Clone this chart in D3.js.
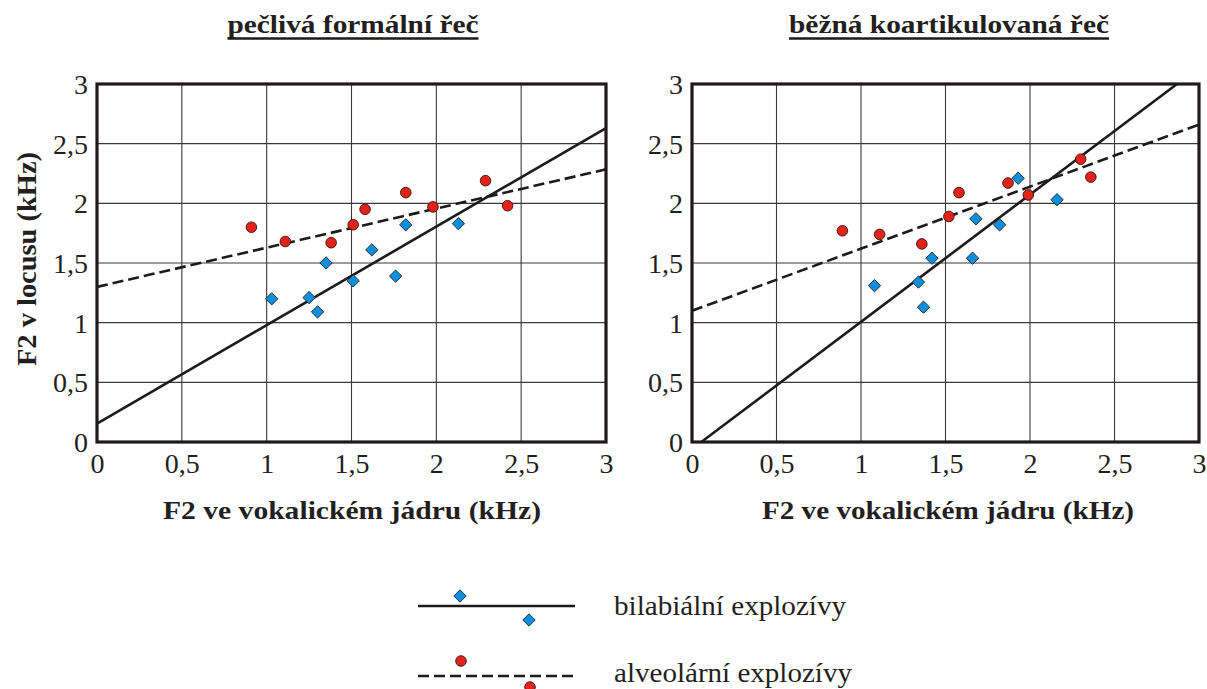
<!DOCTYPE html>
<html>
<head>
<meta charset="utf-8">
<script src="https://cdn.jsdelivr.net/npm/d3@7/dist/d3.min.js"></script>
<style>
  html, body { margin: 0; padding: 0; background: #fff; }
  svg { display: block; }
  text { font-family: "Liberation Serif", "Times New Roman", serif; fill: #231f20; }
</style>
</head>
<body>
<svg id="chart" width="1207" height="689"></svg>
<script>
// ---------- DATA ----------
const panelTitles = ["pečlivá formální řeč", "běžná koartikulovaná řeč"];
const xAxisTitle = "F2 ve vokalickém jádru (kHz)";
const yAxisTitle = "F2 v locusu (kHz)";
const tickValues = [0, 0.5, 1, 1.5, 2, 2.5, 3];
const tickLabels = ["0", "0,5", "1", "1,5", "2", "2,5", "3"];
const seriesNames = ["bilabiální explozívy", "alveolární explozívy"];

// panel 1: careful formal speech
const formalBilabialX = [1.03, 1.25, 1.30, 1.35, 1.51, 1.62, 1.76, 1.82, 2.13];
const formalBilabialY = [1.20, 1.21, 1.09, 1.50, 1.35, 1.61, 1.39, 1.82, 1.83];
const formalAlveolarX = [0.91, 1.11, 1.38, 1.51, 1.58, 1.82, 1.98, 2.29, 2.42];
const formalAlveolarY = [1.80, 1.68, 1.67, 1.82, 1.95, 2.09, 1.97, 2.19, 1.98];
const formalBilabialLine = [[0, 0.155], [3, 2.63]];
const formalAlveolarLine = [[0, 1.30], [3, 2.285]];

// panel 2: common coarticulated speech
const casualBilabialX = [1.08, 1.34, 1.37, 1.42, 1.66, 1.68, 1.82, 1.93, 2.16];
const casualBilabialY = [1.31, 1.34, 1.13, 1.54, 1.54, 1.87, 1.82, 2.21, 2.03];
const casualAlveolarX = [0.89, 1.11, 1.36, 1.52, 1.58, 1.87, 1.99, 2.30, 2.36];
const casualAlveolarY = [1.77, 1.74, 1.66, 1.89, 2.09, 2.17, 2.07, 2.37, 2.22];
const casualBilabialLine = [[0.055, 0], [2.87, 3]];
const casualAlveolarLine = [[0, 1.10], [3, 2.66]];

// ---------- STYLE ----------
const BLUE = "#0c8fd8", RED = "#e2231a", INK = "#1e1a1a";
const svg = d3.select("#chart");

const panels = [
  { title: panelTitles[0], x0: 97, x1: 606, titleX: 353, titleW: 251, axW: 378, axX: 352,
    bx: formalBilabialX, by: formalBilabialY, ax: formalAlveolarX, ay: formalAlveolarY,
    bLine: formalBilabialLine, aLine: formalAlveolarLine, yTitle: true },
  { title: panelTitles[1], x0: 692, x1: 1199, titleX: 949, titleW: 320, axW: 372, axX: 948,
    bx: casualBilabialX, by: casualBilabialY, ax: casualAlveolarX, ay: casualAlveolarY,
    bLine: casualBilabialLine, aLine: casualAlveolarLine, yTitle: false }
];
const yTop = 84, yBot = 442;

const diamond = d3.symbol(d3.symbolSquare, 76);

panels.forEach((p, i) => {
  const x = d3.scaleLinear().domain([0, 3]).range([p.x0, p.x1]);
  const y = d3.scaleLinear().domain([0, 3]).range([yBot, yTop]);
  const g = svg.append("g");

  // grid
  g.append("g").selectAll("line").data(tickValues.slice(1, -1)).join("line")
    .attr("x1", d => x(d)).attr("x2", d => x(d)).attr("y1", yTop).attr("y2", yBot)
    .attr("stroke", "#3a3a3a").attr("stroke-width", 1.1);
  g.append("g").selectAll("line").data(tickValues.slice(1, -1)).join("line")
    .attr("y1", d => y(d)).attr("y2", d => y(d)).attr("x1", p.x0).attr("x2", p.x1)
    .attr("stroke", "#3a3a3a").attr("stroke-width", 1.1);

  // axes (labels only)
  const fmt = d => tickLabels[tickValues.indexOf(d)];
  const ax = g.append("g").attr("transform", `translate(0,${yBot})`)
    .call(d3.axisBottom(x).tickValues(tickValues).tickFormat(fmt).tickSize(0).tickPadding(0));
  ax.select(".domain").remove();
  ax.selectAll("text").attr("font-size", 28).attr("dy", null).attr("y", 31)
    .style("font-family", '"Liberation Serif", serif').attr("fill", INK);
  const ay = g.append("g").attr("transform", `translate(${p.x0},0)`)
    .call(d3.axisLeft(y).tickValues(tickValues).tickFormat(fmt).tickSize(0).tickPadding(9));
  ay.select(".domain").remove();
  ay.selectAll("text").attr("font-size", 28).attr("dy", "0.34em")
    .style("font-family", '"Liberation Serif", serif').attr("fill", INK);

  // regression lines
  const line = d3.line().x(d => x(d[0])).y(d => y(d[1]));
  g.append("path").attr("d", line(p.bLine)).attr("fill", "none")
    .attr("stroke", INK).attr("stroke-width", 2.6);
  g.append("path").attr("d", line(p.aLine)).attr("fill", "none")
    .attr("stroke", INK).attr("stroke-width", 2.6).attr("stroke-dasharray", "11,5");

  // points
  g.append("g").selectAll("path").data(d3.zip(p.bx, p.by)).join("path")
    .attr("d", diamond)
    .attr("transform", d => `translate(${x(d[0])},${y(d[1])}) rotate(45)`)
    .attr("fill", BLUE).attr("stroke", "#1b2a3a").attr("stroke-width", 0.9);
  g.append("g").selectAll("circle").data(d3.zip(p.ax, p.ay)).join("circle")
    .attr("cx", d => x(d[0])).attr("cy", d => y(d[1])).attr("r", 5.3)
    .attr("fill", RED).attr("stroke", "#3a1010").attr("stroke-width", 0.9);

  // frame
  g.append("rect").attr("x", p.x0).attr("y", yTop).attr("width", p.x1 - p.x0).attr("height", yBot - yTop)
    .attr("fill", "none").attr("stroke", INK).attr("stroke-width", 3.2);

  // title
  g.append("text").attr("x", p.titleX).attr("y", 33).attr("text-anchor", "middle")
    .attr("font-size", 26).attr("font-weight", "bold")
    .attr("textLength", p.titleW).attr("lengthAdjust", "spacingAndGlyphs").text(p.title);
  g.append("line").attr("x1", p.titleX - p.titleW / 2).attr("x2", p.titleX + p.titleW / 2)
    .attr("y1", 38.5).attr("y2", 38.5).attr("stroke", INK).attr("stroke-width", 2.4);

  // x axis title
  g.append("text").attr("x", p.axX).attr("y", 519).attr("text-anchor", "middle")
    .attr("font-size", 26).attr("font-weight", "bold")
    .attr("textLength", p.axW).attr("lengthAdjust", "spacingAndGlyphs").text(xAxisTitle);

  if (p.yTitle) {
    g.append("text").attr("transform", "translate(36,259) rotate(-90)")
      .attr("text-anchor", "middle").attr("font-size", 28).attr("font-weight", "bold")
      .attr("textLength", 214).attr("lengthAdjust", "spacingAndGlyphs").text(yAxisTitle);
  }
});

// ---------- LEGEND ----------
const lg = svg.append("g");
lg.append("line").attr("x1", 418).attr("x2", 575).attr("y1", 606).attr("y2", 606)
  .attr("stroke", INK).attr("stroke-width", 2.6);
lg.selectAll("path").data([[460, 596], [529, 620]]).join("path")
  .attr("d", diamond).attr("transform", d => `translate(${d[0]},${d[1]}) rotate(45)`)
  .attr("fill", BLUE).attr("stroke", "#1b2a3a").attr("stroke-width", 0.9);
lg.append("line").attr("x1", 418).attr("x2", 575).attr("y1", 676).attr("y2", 676)
  .attr("stroke", INK).attr("stroke-width", 2.6).attr("stroke-dasharray", "11,5");
lg.selectAll("circle").data([[461, 661], [530, 687]]).join("circle")
  .attr("cx", d => d[0]).attr("cy", d => d[1]).attr("r", 5.3)
  .attr("fill", RED).attr("stroke", "#3a1010").attr("stroke-width", 0.9);
lg.append("text").attr("x", 614).attr("y", 615).attr("font-size", 28)
  .attr("textLength", 232).attr("lengthAdjust", "spacingAndGlyphs").text(seriesNames[0]);
lg.append("text").attr("x", 614).attr("y", 682).attr("font-size", 27)
  .attr("textLength", 238).attr("lengthAdjust", "spacingAndGlyphs").text(seriesNames[1]);
</script>
</body>
</html>
